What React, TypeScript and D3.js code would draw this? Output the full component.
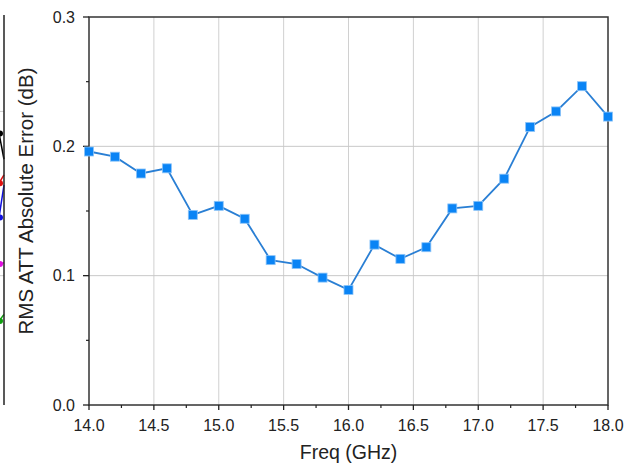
import React from "react";
import * as d3 from "d3";

const freqs = [14.0, 14.2, 14.4, 14.6, 14.8, 15.0, 15.2, 15.4, 15.6, 15.8, 16.0, 16.2, 16.4, 16.6, 16.8, 17.0, 17.2, 17.4, 17.6, 17.8, 18.0];
const errors = [0.196, 0.192, 0.179, 0.183, 0.147, 0.154, 0.144, 0.112, 0.109, 0.0985, 0.089, 0.124, 0.113, 0.122, 0.152, 0.154, 0.175, 0.215, 0.227, 0.2465, 0.223];
const xTicks = [14.0, 14.5, 15.0, 15.5, 16.0, 16.5, 17.0, 17.5, 18.0];
const xMinor = [14.25, 14.75, 15.25, 15.75, 16.25, 16.75, 17.25, 17.75];
const yTicks = [0.0, 0.1, 0.2, 0.3];
const yMinor = [0.05, 0.15, 0.25];

// clipped fragment of neighbouring chart on the left edge (values at its right edge)
const fragSeries = [
  { color: "#000000", y0: 0.23, y1: 0.19 },
  { color: "#e01010", y0: 0.165, y1: 0.178 },
  { color: "#1010e0", y0: 0.12, y1: 0.17 },
  { color: "#e010e0", y0: 0.108, y1: 0.11 },
  { color: "#10a010", y0: 0.06, y1: 0.07 },
];

export default function App() {
  const W = 640, H = 470;
  const m = { left: 89, right: 608, top: 17, bottom: 405 };
  const x = d3.scaleLinear().domain([14, 18]).range([m.left, m.right]);
  const y = d3.scaleLinear().domain([0, 0.3]).range([m.bottom, m.top]);
  const line = d3.line<number>().x((_, i) => x(freqs[i])).y((d) => y(d));
  const font = "'Liberation Sans', Arial, sans-serif";
  const fx = d3.scaleLinear().domain([0, 1]).range([-6, 4]);
  return (
    <svg width={W} height={H} style={{ position: "absolute", left: 0, top: 0, background: "#fff" }} fontFamily={font}>
      {/* left fragment */}
      <g>
        {[0.1, 0.227].map((v) => (
          <line key={v} x1={0} x2={4} y1={y(v)} y2={y(v)} stroke="#ccc" strokeWidth={1} />
        ))}
        {fragSeries.map((s) => (
          <g key={s.color}>
            <line x1={fx(0)} x2={fx(1)} y1={y(s.y0)} y2={y(s.y1)} stroke={s.color} strokeWidth={1.5} />
            <circle cx={fx(0.6)} cy={y((s.y0 + s.y1) / 2)} r={3} fill={s.color} />
          </g>
        ))}
        <line x1={4} x2={4} y1={m.top - 2} y2={m.bottom} stroke="#222" strokeWidth={1.5} />
      </g>
      {/* grid */}
      {xTicks.slice(1, -1).map((t) => (
        <line key={"gx" + t} x1={x(t)} x2={x(t)} y1={m.top} y2={m.bottom} stroke="#d0d0d0" strokeWidth={1} />
      ))}
      {yTicks.slice(1, -1).map((t) => (
        <line key={"gy" + t} x1={m.left} x2={m.right} y1={y(t)} y2={y(t)} stroke="#c8c8c8" strokeWidth={1} />
      ))}
      {/* frame */}
      <rect x={m.left} y={m.top} width={m.right - m.left} height={m.bottom - m.top} fill="none" stroke="#333" strokeWidth={1.5} />
      {/* x ticks */}
      {xTicks.map((t) => (
        <g key={"xt" + t}>
          <line x1={x(t)} x2={x(t)} y1={m.bottom} y2={m.bottom + 5} stroke="#222" strokeWidth={1.3} />
          <text x={x(t)} y={m.bottom + 26} textAnchor="middle" fontSize={16} fill="#222">{t.toFixed(1)}</text>
        </g>
      ))}
      {xMinor.map((t) => (
        <line key={"xm" + t} x1={x(t)} x2={x(t)} y1={m.bottom} y2={m.bottom + 3} stroke="#222" strokeWidth={1.2} />
      ))}
      {/* y ticks */}
      {yTicks.map((t) => (
        <g key={"yt" + t}>
          <line x1={m.left - 6} x2={m.left} y1={y(t)} y2={y(t)} stroke="#222" strokeWidth={1.3} />
          <text x={m.left - 14} y={y(t) + 5.5} textAnchor="end" fontSize={16} fill="#222">{t.toFixed(1)}</text>
        </g>
      ))}
      {yMinor.map((t) => (
        <line key={"ym" + t} x1={m.left - 3} x2={m.left} y1={y(t)} y2={y(t)} stroke="#222" strokeWidth={1.2} />
      ))}
      {/* axis labels */}
      <text x={(m.left + m.right) / 2} y={459} textAnchor="middle" fontSize={19.5} fill="#222">Freq (GHz)</text>
      <text transform={`translate(33, ${201}) rotate(-90)`} textAnchor="middle" fontSize={20.5} fill="#222">RMS ATT Absolute Error (dB)</text>
      {/* series */}
      <path d={line(errors) || ""} fill="none" stroke="#2a7fd4" strokeWidth={1.8} />
      {errors.map((v, i) => (
        <rect key={"p" + i} x={x(freqs[i]) - 4.5} y={y(v) - 4.5} width={9} height={9} fill="#0a84f5" stroke="#8cc4f8" strokeWidth={0.8} />
      ))}
    </svg>
  );
}
